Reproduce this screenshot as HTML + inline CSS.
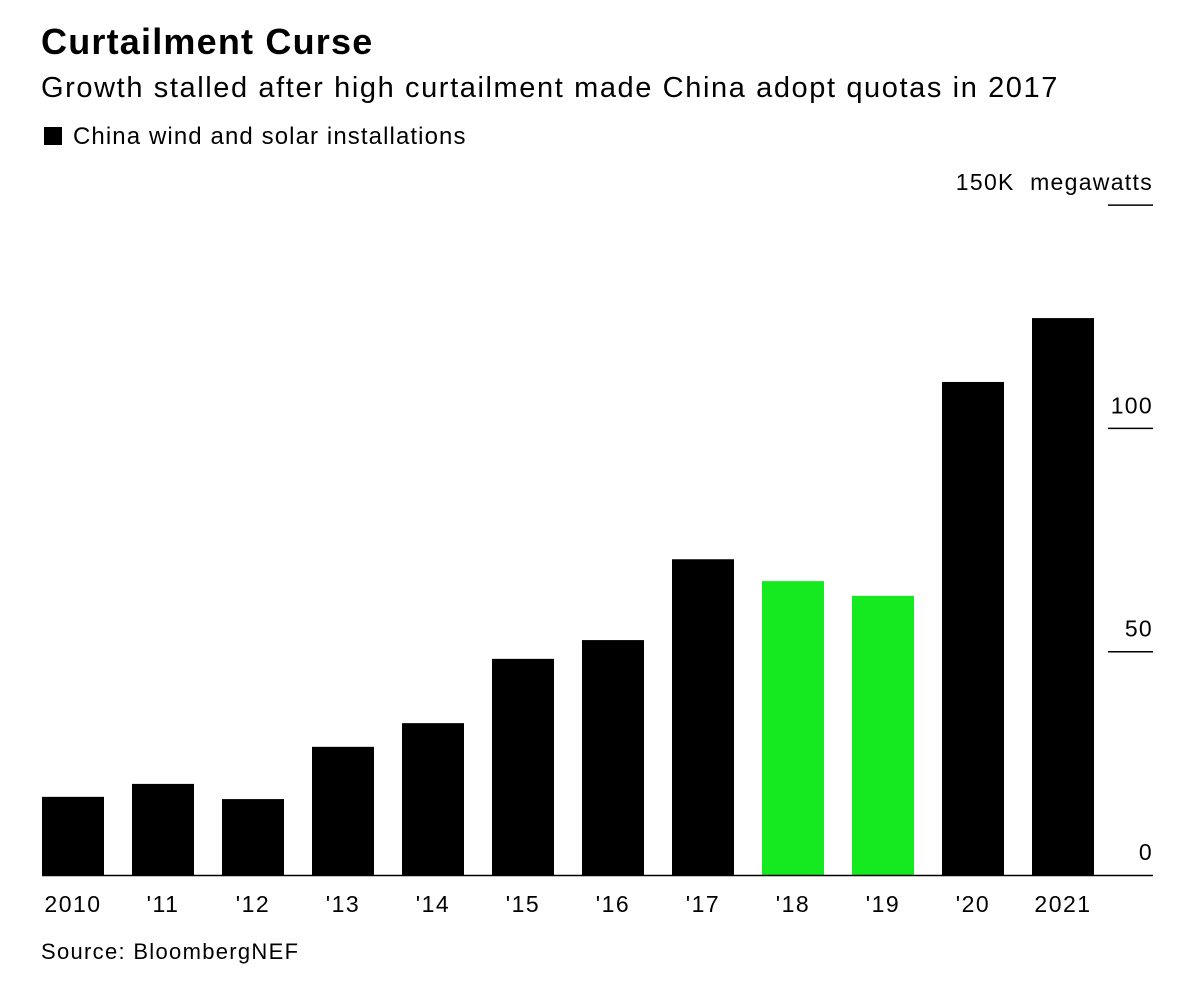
<!DOCTYPE html>
<html><head><meta charset="utf-8"><style>
body{margin:0;background:#fff;font-family:"Liberation Sans",sans-serif;color:#000}
#wrap{position:relative;width:1200px;height:1006px;overflow:hidden}
.t{position:absolute;white-space:nowrap}
</style></head><body>
<div id="wrap">
<div class="t" style="left:41px;top:21px;font-size:36px;font-weight:bold;letter-spacing:1.2px">Curtailment Curse</div>
<div class="t" style="left:41px;top:72px;font-size:29px;letter-spacing:1.6px">Growth stalled after high curtailment made China adopt quotas in 2017</div>
<div class="t" style="left:44px;top:123px;font-size:24px;letter-spacing:1.1px"><span style="display:inline-block;width:18px;height:18px;background:#000;margin-right:11px;vertical-align:-1px"></span>China wind and solar installations</div>
<div class="t" style="left:41px;top:939px;font-size:22px;letter-spacing:1.3px">Source: BloombergNEF</div>
<svg id="svg" width="1200" height="1006" style="position:absolute;left:0;top:0"></svg>
</div>
<script>
const categories=["2010","'11","'12","'13","'14","'15","'16","'17","'18","'19","'20","2021"];
const values=[17.5,20.4,17.0,28.7,34.0,48.4,52.6,70.7,65.8,62.5,110.4,124.7];
const highlighted=["'18","'19"];
const tickValues=[0,50,100,150];
const tickLabels=["0","50","100","150K  megawatts"];
const NS="http://www.w3.org/2000/svg";
const svg=document.getElementById('svg');
const y=v=>875-v*(223.3/50);
const x=i=>42+i*90;
function mk(tag,attrs){const e=document.createElementNS(NS,tag);for(const k in attrs)e.setAttribute(k,attrs[k]);svg.appendChild(e);return e;}
categories.forEach((c,i)=>{
  const r=mk('rect',{x:x(i),y:y(values[i]),width:62,height:y(0)-y(values[i]),fill:highlighted.includes(c)?'#15ea20':'#000'});
  
  
  const t=mk('text',{x:x(i)+31,y:912,'text-anchor':'middle','font-size':23,'letter-spacing':1.5,'font-family':'Liberation Sans, sans-serif'});
  t.textContent=c;
  
  
});
tickValues.forEach((v,i)=>{
  if(v>0){const l=mk('line',{x1:1108,x2:1153,y1:y(v),y2:y(v),stroke:'#000','stroke-width':1.5});
  
  }
  const t=mk('text',{x:1153,y:y(v)-15,'text-anchor':'end','font-size':23,'letter-spacing':1.3,'font-family':'Liberation Sans, sans-serif'});
  t.style.whiteSpace='pre';
  t.textContent=tickLabels[i];
  
  
});
const ax=mk('line',{x1:42,x2:1153,y1:875.5,y2:875.5,stroke:'#000','stroke-width':1.5});


</script>
</body></html>
